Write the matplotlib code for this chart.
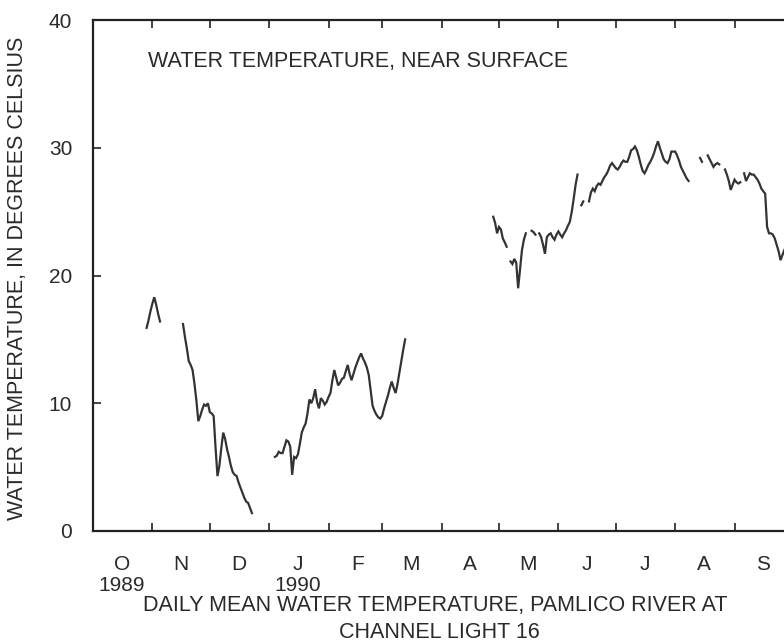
import numpy as np
import pandas as pd
import matplotlib
matplotlib.use("Agg")
import matplotlib.pyplot as plt
import matplotlib.dates as mdates

plt.rcParams['font.family'] = ['Liberation Sans', 'DejaVu Sans']

# ---- data: daily mean water temperature (deg C), segments separated by gaps ----
seg1_start = '1989-10-29'
seg1 = [15.9, 16.5, 17.2, 17.8, 18.3, 17.7, 17.0, 16.4]

seg2_start = '1989-11-17'
seg2 = [16.2, 15.2, 14.3, 13.3, 13.0, 12.6, 11.5, 10.2, 8.6, 9.0, 9.5, 9.9,
        9.8, 10.0, 9.3, 9.2, 9.0, 6.5, 4.3, 5.1, 6.5, 7.7, 7.2, 6.4, 5.8, 5.1,
        4.6, 4.4, 4.3, 3.8, 3.4, 3.0, 2.6, 2.3, 2.2, 1.8, 1.4]

seg3_start = '1990-01-04'
seg3 = [5.8, 5.9, 6.2, 6.1, 6.1, 6.6, 7.1, 7.0, 6.6, 4.4, 5.8, 5.7, 6.0, 6.8,
        7.7, 8.1, 8.4, 9.2, 10.3, 10.0, 10.4, 11.1, 10.1, 9.6, 10.4, 10.2, 9.9,
        10.1, 10.5, 10.8, 11.8, 12.6, 12.0, 11.4, 11.6, 11.9, 12.0, 12.5, 13.0,
        12.3, 11.8, 12.3, 12.8, 13.2, 13.6, 13.9, 13.5, 13.2, 12.8, 12.2, 11.0,
        9.8, 9.4, 9.1, 8.9, 8.8, 9.0, 9.6, 10.1, 10.6, 11.2, 11.7, 11.2, 10.8,
        11.5, 12.4, 13.3, 14.2, 15.0]

seg4_start = '1990-04-28'
seg4 = [24.6, 24.1, 23.3, 23.8, 23.6, 22.9, 22.6, 22.25]

seg5_start = '1990-05-07'
seg5 = [21.1, 20.9, 21.3, 21.0, 19.0, 20.5, 22.0, 22.8, 23.3]

seg6_start = '1990-05-18'
seg6 = [23.5, 23.4, 23.2]

seg7_start = '1990-05-22'
seg7 = [23.3, 23.0, 22.4, 21.7, 23.0, 23.2, 23.3, 23.0, 22.8, 23.2, 23.45,
        23.2, 23.0, 23.3, 23.55, 23.9, 24.2, 25.0, 26.0, 27.1, 27.9]

seg8_start = '1990-06-13'
seg8 = [25.5, 25.8]

seg9_start = '1990-06-17'
seg9 = [25.8, 26.5, 26.8, 26.6, 27.0, 27.2, 27.1, 27.4, 27.7, 27.9, 28.2, 28.6,
        28.8, 28.6, 28.4, 28.3, 28.5, 28.8, 29.0, 28.9, 28.9, 29.3, 29.8, 29.9,
        30.1, 29.8, 29.3, 28.7, 28.2, 28.0, 28.3, 28.65, 28.9, 29.2, 29.6, 30.1,
        30.5, 30.0, 29.55, 29.1, 28.9, 28.8, 29.1, 29.7, 29.7, 29.7, 29.4, 29.0,
        28.5, 28.2, 27.9, 27.6, 27.4]

seg10_start = '1990-08-14'
seg10 = [29.2, 28.9]

seg11_start = '1990-08-18'
seg11 = [29.4, 29.1, 28.8, 28.5, 28.7, 28.8, 28.7]

seg12_start = '1990-08-27'
seg12 = [28.3, 27.9, 27.4, 26.7, 27.1, 27.5, 27.3, 27.2, 27.3]

seg13_start = '1990-09-06'
seg13 = [28.0, 27.4, 27.7, 28.0, 27.9, 27.9, 27.7, 27.5, 27.2, 26.8, 26.6, 26.4,
         23.8, 23.3, 23.3, 23.2, 22.9, 22.4, 21.9, 21.2, 21.6, 22.0, 22.3]

segments = [(seg1_start, seg1), (seg2_start, seg2), (seg3_start, seg3),
            (seg4_start, seg4), (seg5_start, seg5), (seg6_start, seg6),
            (seg7_start, seg7), (seg8_start, seg8), (seg9_start, seg9),
            (seg10_start, seg10), (seg11_start, seg11), (seg12_start, seg12),
            (seg13_start, seg13)]

month_labels = ['O\n1989', 'N', 'D', 'J\n1990', 'F', 'M', 'A', 'M', 'J', 'J', 'A', 'S']
y_ticks = [0, 10, 20, 30, 40]

# ---- build daily series ----
dates = pd.date_range('1989-10-01', '1990-09-30', freq='D')
series = pd.Series(np.nan, index=dates)
for start, vals in segments:
    idx = pd.date_range(start, periods=len(vals), freq='D')
    series.loc[idx] = vals

W, H = 784, 641
fig = plt.figure(figsize=(W / 100, H / 100), dpi=100)
ax = fig.add_axes([93 / W, 1 - 531 / H, (792 - 93) / W, (531 - 20) / H])

line_col = '#333333'
text_col = '#2a2a2a'
ax.plot(series.index, series.values, color=line_col, lw=1.6, solid_joinstyle='miter')

ax.set_xlim(pd.Timestamp('1989-10-01'), pd.Timestamp('1990-10-01'))
ax.set_ylim(0, 40)

month_starts = pd.date_range('1989-11-01', '1990-09-01', freq='MS')
mid_months = [pd.Timestamp(d) + pd.Timedelta(days=15)
              for d in pd.date_range('1989-10-01', '1990-09-01', freq='MS')]
ax.set_xticks(month_starts)
ax.set_xticklabels([])
ax.set_xticks(mid_months, minor=True)
ax.set_xticklabels(month_labels, minor=True)
for lab in ax.get_xticklabels(minor=True):
    lab.set_linespacing(1.15)

ax.set_yticks(y_ticks)
ax.set_yticklabels([str(v) for v in y_ticks])

ax.tick_params(axis='x', which='major', direction='in', length=6, width=1.3,
               top=True, bottom=True, color='#333333')
ax.tick_params(axis='x', which='minor', length=0, pad=17, labelsize=15,
               labelcolor=text_col)
ax.tick_params(axis='y', direction='in', length=6, width=1.3, left=True,
               right=True, pad=15, labelsize=15, labelcolor=text_col,
               color='#333333')

for s in ax.spines.values():
    s.set_linewidth(1.6)
    s.set_color('#222222')

fs = 15.5
fig.text(148 / W, 1 - 62 / H, 'WATER TEMPERATURE, NEAR SURFACE', ha='left',
         va='center', fontsize=fs, color=text_col)
fig.text(18 / W, 1 - 278 / H, 'WATER TEMPERATURE, IN DEGREES CELSIUS',
         rotation=90, ha='center', va='center', fontsize=fs, color=text_col)
fig.text(435 / W, 1 - 605 / H, 'DAILY MEAN WATER TEMPERATURE, PAMLICO RIVER AT',
         ha='center', va='center', fontsize=fs, color=text_col)
fig.text(439 / W, 1 - 632 / H, 'CHANNEL LIGHT 16', ha='center', va='center',
         fontsize=fs, color=text_col)

fig.savefig('out.png', dpi=100, facecolor='white')
